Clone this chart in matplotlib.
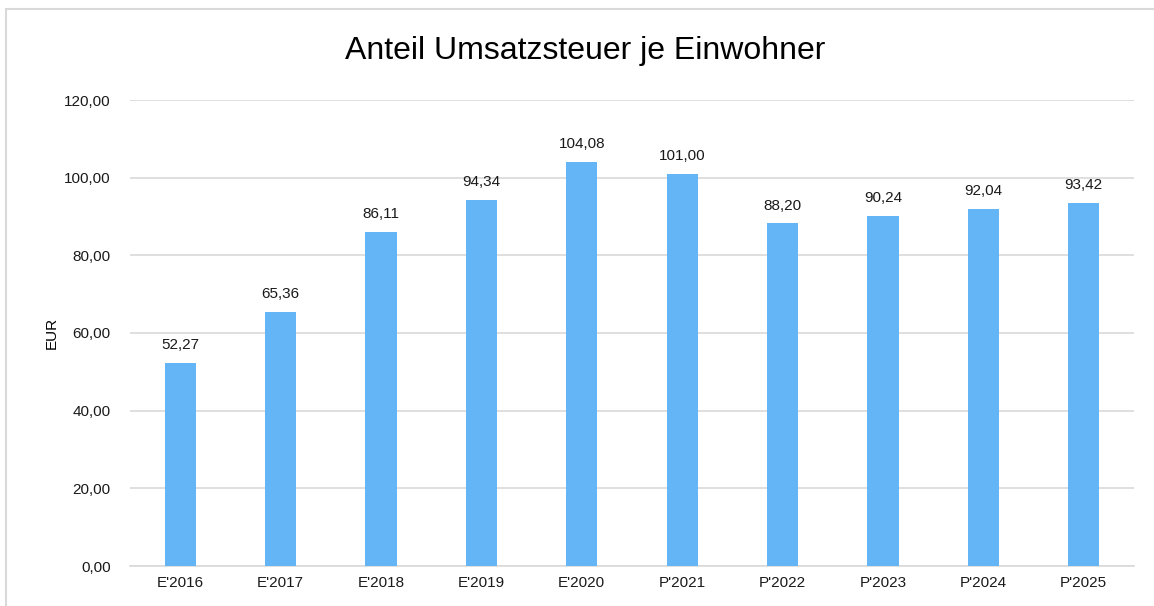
import matplotlib.pyplot as plt
from matplotlib.patches import Rectangle
import numpy as np

# ---------- data ----------
years = ["E'2016", "E'2017", "E'2018", "E'2019", "E'2020",
         "P'2021", "P'2022", "P'2023", "P'2024", "P'2025"]
values = [52.27, 65.36, 86.11, 94.34, 104.08, 101.00, 88.20, 90.24, 92.04, 93.42]
y_ticks = [0, 20, 40, 60, 80, 100, 120]

plt.rcParams['font.family'] = ['Liberation Sans', 'DejaVu Sans']

fig = plt.figure(figsize=(11.54, 6.06), dpi=100)
ax = fig.add_axes([130 / 1154, 40 / 606, 1004 / 1154, 466 / 606])

# outer chart frame (only left/top visible in the crop)
fig.patches.append(Rectangle((6 / 1154, -0.05), 1.2, (606 - 9) / 606 + 0.05,
                             transform=fig.transFigure, fill=False,
                             edgecolor='#d9d9d9', linewidth=1.5))

x = np.arange(len(years))
bars = ax.bar(x, values, width=0.31, color='#64b5f6', zorder=3)

for xi, v in zip(x, values):
    ax.text(xi, v + 2.8, f"{v:.2f}".replace('.', ','), ha='center', va='bottom',
            fontsize=11, color='#1a1a1a')

ax.set_xlim(-0.5, len(years) - 0.5)
ax.set_ylim(0, 120)
ax.set_yticks(y_ticks)
ax.set_yticklabels([f"{t:.2f}".replace('.', ',') for t in y_ticks])
ax.set_xticks(x)
ax.set_xticklabels(years)
ax.tick_params(length=0, labelsize=11, colors='#1a1a1a')
ax.tick_params(axis='y', pad=14)
ax.tick_params(axis='x', pad=7)
ax.grid(axis='y', color='#d9d9d9', linewidth=1.2, zorder=0)
for s in ['top', 'right', 'left']:
    ax.spines[s].set_visible(False)
ax.spines['bottom'].set_color('#d9d9d9')
ax.spines['bottom'].set_linewidth(1.2)

ax.set_ylabel('EUR', fontsize=11, labelpad=4)
fig.text(585 / 1154, 1 - 51 / 606, 'Anteil Umsatzsteuer je Einwohner',
         ha='center', va='center', fontsize=23)

fig.savefig('out.png', dpi=100)
